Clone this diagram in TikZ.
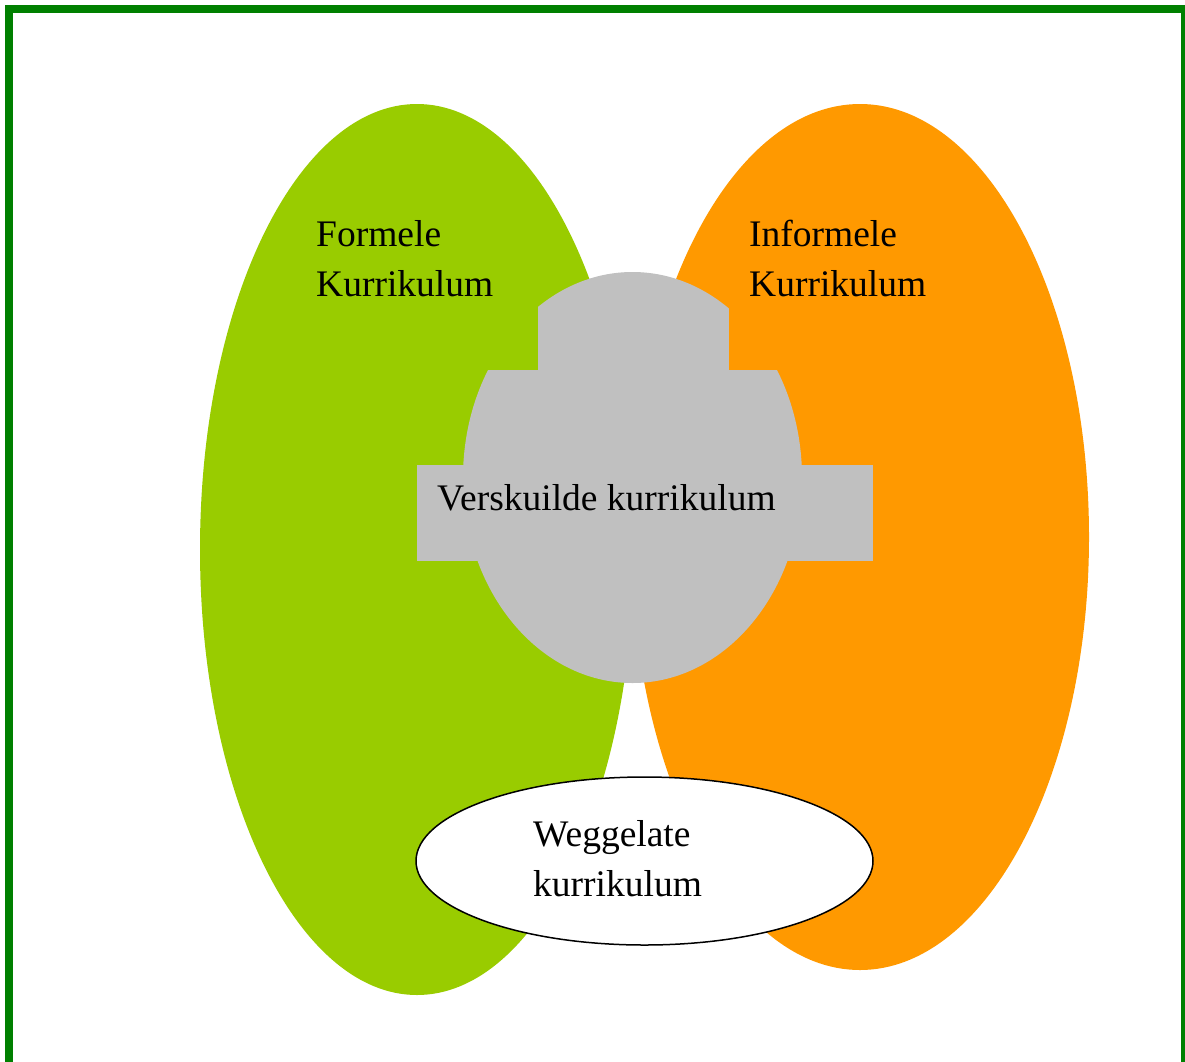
\documentclass[tikz,border=0pt]{standalone}
\usepackage{fontspec}
\setmainfont{Liberation Serif}
\usetikzlibrary{shapes.geometric}
\definecolor{formgreen}{HTML}{99CC00}
\definecolor{informorange}{HTML}{FF9900}
\definecolor{hiddengray}{HTML}{C0C0C0}
\definecolor{framegreen}{HTML}{008000}
\tikzset{
  blob/.style={ellipse, inner sep=0pt, draw=none},
  lbl/.style={anchor=base west, inner sep=0pt, align=left,
    font=\fontsize{37.5}{50}\selectfont, text=black}
}
\begin{document}
\begin{tikzpicture}[x=1pt,y=-1pt]
\useasboundingbox (0,0) rectangle (1185,1061);
\fill[white] (0,0) rectangle (1185,1061);
% frame
\draw[framegreen, line width=8pt, line join=miter] (9,1075) -- (9,9) -- (1185,9) -- (1185,1075);
% main ellipses
\node[blob, fill=formgreen, minimum width=434pt, minimum height=891pt] (formal) at (417,549.5) {};
\node[blob, fill=informorange, minimum width=458pt, minimum height=866pt] (informal) at (860,537) {};
% hidden curriculum
\node[blob, fill=hiddengray, minimum width=339pt, minimum height=411pt] (hidden) at (632.5,477.5) {};
\fill[formgreen] (470,280) rectangle (538,370);
\fill[informorange] (729,280) rectangle (800,370);
\fill[hiddengray] (417,465) rectangle (873,561);
% omitted curriculum
\node[ellipse, draw=black, line width=1.5pt, fill=white, inner sep=0pt,
  minimum width=457pt, minimum height=168pt] (omitted) at (644.5,861) {};
% labels (base anchor = baseline of last line)
\node[lbl] (tformal) at (316,296) {Formele\\Kurrikulum};
\node[lbl] (tinformal) at (749,296) {Informele\\Kurrikulum};
\node[lbl] (thidden) at (437,510) {Verskuilde kurrikulum};
\node[lbl] (tomitted) at (533,896) {Weggelate\\kurrikulum};
\end{tikzpicture}
\end{document}
